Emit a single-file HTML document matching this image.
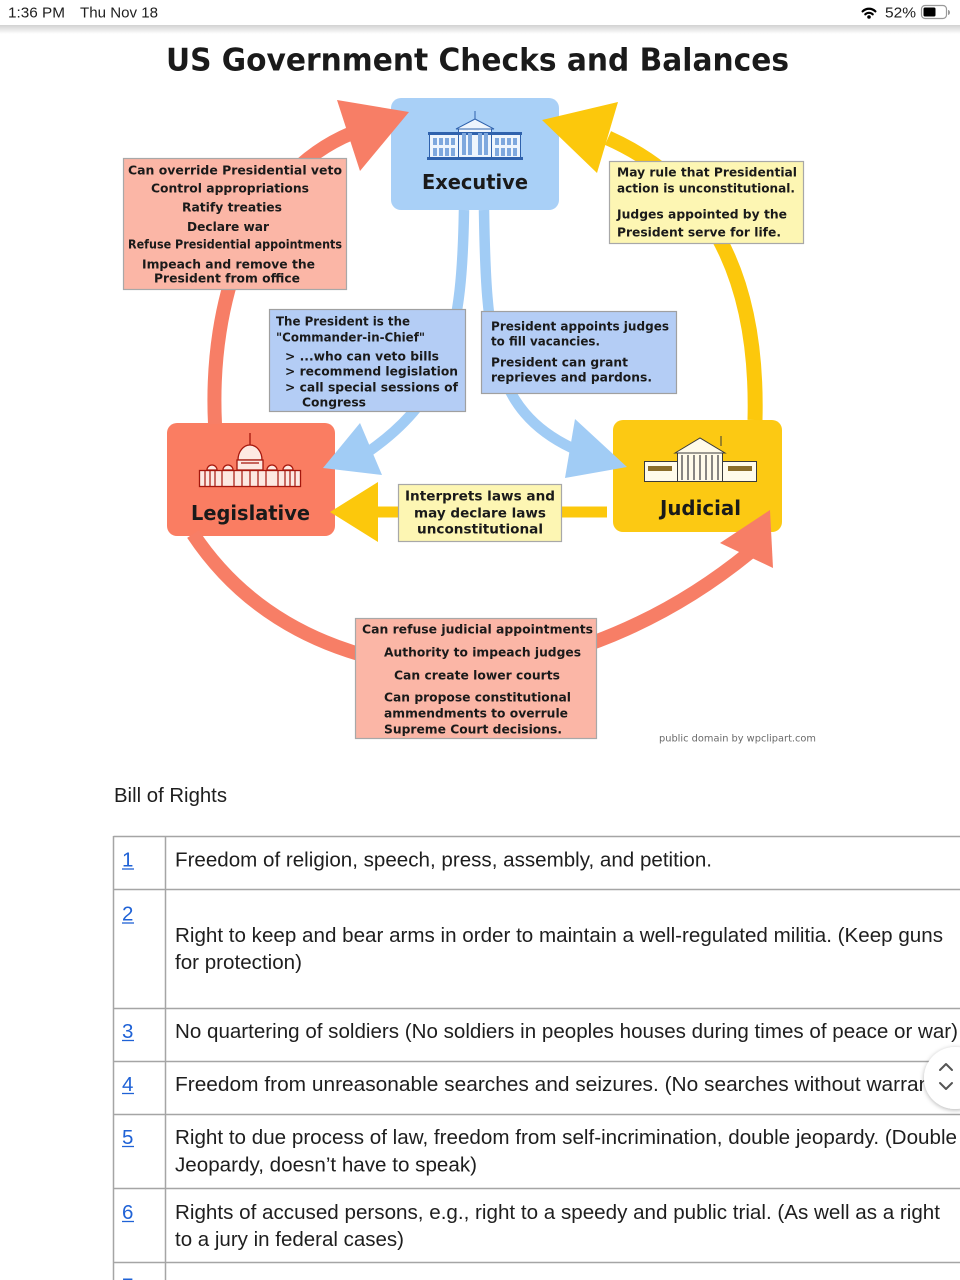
<!DOCTYPE html>
<html>
<head>
<meta charset="utf-8">
<style>
html,body{margin:0;padding:0;background:#fff;width:960px;height:1280px;overflow:hidden;}
svg{position:absolute;left:0;top:0;display:block;}
.d{font-family:"DejaVu Sans","Liberation Sans",sans-serif;font-weight:bold;fill:#1a1a1a;}
.t{font-family:"Liberation Sans",Arial,sans-serif;fill:#1e1e1e;}
.n{font-family:"Liberation Sans",Arial,sans-serif;fill:#1f62d6;}
</style>
</head>
<body>
<svg width="960" height="1280" viewBox="0 0 960 1280" xmlns="http://www.w3.org/2000/svg">
<defs>
  <linearGradient id="sh" x1="0" y1="0" x2="0" y2="1">
    <stop offset="0" stop-color="#000" stop-opacity="0.18"/>
    <stop offset="1" stop-color="#000" stop-opacity="0"/>
  </linearGradient>
  <filter id="ds" x="-50%" y="-50%" width="200%" height="200%">
    <feDropShadow dx="0" dy="1" stdDeviation="2.5" flood-color="#000" flood-opacity="0.3"/>
  </filter>
</defs>

<!-- status bar -->
<rect x="0" y="0" width="960" height="25" fill="#fff"/>
<rect x="0" y="25" width="960" height="9" fill="url(#sh)"/>
<text class="t" x="8" y="17.5" font-size="15" textLength="57" lengthAdjust="spacingAndGlyphs" fill="#000">1:36 PM</text>
<text class="t" x="80" y="17.5" font-size="15" textLength="78" lengthAdjust="spacingAndGlyphs" fill="#000">Thu Nov 18</text>
<g fill="none" stroke="#000" stroke-width="2.2" stroke-linecap="round">
  <path d="M862.6,11.4 A9,9 0 0 1 875.4,11.4"/>
  <path d="M865.3,14.3 A5.3,5.3 0 0 1 872.7,14.3"/>
</g>
<circle cx="869" cy="17" r="1.8" fill="#000"/>
<text class="t" x="885" y="17.5" font-size="15" textLength="31" lengthAdjust="spacingAndGlyphs" fill="#000">52%</text>
<rect x="921.5" y="5.5" width="25" height="13" rx="3.5" fill="none" stroke="#999" stroke-width="1.2"/>
<rect x="923.5" y="7.5" width="12" height="9" rx="1.5" fill="#000"/>
<path d="M948,10 a2,2.5 0 0 1 0,5 z" fill="#999"/>

<!-- title -->
<text class="d" x="166" y="70.5" font-size="31" textLength="623" lengthAdjust="spacingAndGlyphs" fill="#111">US Government Checks and Balances</text>

<!-- branch boxes -->
<rect x="391" y="98" width="168" height="112" rx="10" fill="#a9d0f7"/>
<rect x="167" y="423" width="168" height="113" rx="10" fill="#fa7d62"/>
<rect x="613" y="420" width="169" height="112" rx="10" fill="#fcc913"/>

<!-- White House icon -->
<g stroke="#2f62ad" stroke-width="1" fill="#eef5fd">
  <rect x="429.5" y="134.5" width="91" height="23"/>
  <rect x="458.5" y="128.5" width="33" height="29"/>
  <polygon points="456,129 475,119 494,129"/>
  <line x1="475" y1="111" x2="475" y2="119"/>
</g>
<rect x="428" y="132" width="94" height="3" fill="#2f62ad"/>
<rect x="427" y="157" width="96" height="3" fill="#2f62ad"/>
<g fill="#7ea8de">
  <rect x="433" y="138" width="4" height="7"/><rect x="439" y="138" width="4" height="7"/><rect x="445" y="138" width="4" height="7"/><rect x="451" y="138" width="4" height="7"/>
  <rect x="433" y="148" width="4" height="8"/><rect x="439" y="148" width="4" height="8"/><rect x="445" y="148" width="4" height="8"/><rect x="451" y="148" width="4" height="8"/>
  <rect x="495" y="138" width="4" height="7"/><rect x="501" y="138" width="4" height="7"/><rect x="507" y="138" width="4" height="7"/><rect x="513" y="138" width="4" height="7"/>
  <rect x="495" y="148" width="4" height="8"/><rect x="501" y="148" width="4" height="8"/><rect x="507" y="148" width="4" height="8"/><rect x="513" y="148" width="4" height="8"/>
  <rect x="462" y="133" width="4" height="22"/><rect x="468" y="133" width="4" height="22"/><rect x="478" y="133" width="4" height="22"/><rect x="484" y="133" width="4" height="22"/>
</g>

<!-- Capitol icon -->
<g stroke="#a5170d" stroke-width="1.3" fill="#fde9e2">
  <line x1="250" y1="433" x2="250" y2="446"/>
  <path d="M238,460 A12,15 0 0 1 262,460 Z"/>
  <rect x="237" y="460" width="26" height="10"/>
  <rect x="199.5" y="470.5" width="101" height="16"/>
  <path d="M207,470 a5,5 0 0 1 10,0 Z"/>
  <path d="M223,470 a5,5 0 0 1 10,0 Z"/>
  <path d="M267,470 a5,5 0 0 1 10,0 Z"/>
  <path d="M283,470 a5,5 0 0 1 10,0 Z"/>
</g>
<g stroke="#a5170d" stroke-width="1.2">
  <line x1="205" y1="471" x2="205" y2="486"/><line x1="210" y1="471" x2="210" y2="486"/><line x1="215" y1="471" x2="215" y2="486"/>
  <line x1="222" y1="471" x2="222" y2="486"/><line x1="234" y1="471" x2="234" y2="486"/>
  <line x1="242" y1="471" x2="242" y2="486"/><line x1="250" y1="471" x2="250" y2="486"/><line x1="258" y1="471" x2="258" y2="486"/>
  <line x1="266" y1="471" x2="266" y2="486"/><line x1="278" y1="471" x2="278" y2="486"/>
  <line x1="285" y1="471" x2="285" y2="486"/><line x1="290" y1="471" x2="290" y2="486"/><line x1="295" y1="471" x2="295" y2="486"/>
  <line x1="241" y1="463" x2="259" y2="463"/>
</g>

<!-- Court icon -->
<g stroke="#3a3a3a" stroke-width="1" fill="#fffbea">
  <rect x="644.5" y="461.5" width="112" height="20"/>
  <rect x="677.5" y="452.5" width="45" height="29"/>
  <polygon points="675,453 700,438 725,453"/>
  <line x1="721" y1="436" x2="721" y2="446"/>
</g>
<g fill="#8a6d2a">
  <rect x="648" y="466" width="24" height="5"/>
  <rect x="728" y="466" width="24" height="5"/>
</g>
<g stroke="#555" stroke-width="1.4">
  <line x1="682" y1="455" x2="682" y2="480"/><line x1="688" y1="455" x2="688" y2="480"/><line x1="694" y1="455" x2="694" y2="480"/>
  <line x1="700" y1="455" x2="700" y2="480"/><line x1="706" y1="455" x2="706" y2="480"/><line x1="712" y1="455" x2="712" y2="480"/><line x1="718" y1="455" x2="718" y2="480"/>
</g>

<text class="d" x="422" y="189" font-size="20" textLength="106" lengthAdjust="spacingAndGlyphs">Executive</text>
<text class="d" x="191" y="520" font-size="20" textLength="119" lengthAdjust="spacingAndGlyphs">Legislative</text>
<text class="d" x="660" y="515" font-size="20" textLength="81" lengthAdjust="spacingAndGlyphs">Judicial</text>

<!-- arrows -->
<g fill="none" stroke-linecap="butt">
  <path d="M215,424 C209,300 250,175 352,133" stroke="#f77e66" stroke-width="14"/>
  <path d="M755,420 C758,300 725,190 608,138" stroke="#fcc80c" stroke-width="15"/>
  <path d="M464,210 C462,330 450,395 368,452" stroke="#a1ccf5" stroke-width="10.5"/>
  <path d="M484,210 C486,340 492,410 572,448" stroke="#a1ccf5" stroke-width="10.5"/>
  <path d="M607,512 L374,512" stroke="#fcc80c" stroke-width="11"/>
  <path d="M193,534 Q280,665 476,672 Q630,650 749,553" stroke="#f77e66" stroke-width="14"/>
</g>
<polygon points="337,100 409,112 360,171" fill="#f77e66"/>
<polygon points="618,102 542,120 597,173" fill="#fcc80c"/>
<polygon points="360,423 323,468 382,475" fill="#a1ccf5"/>
<polygon points="575,419 627,467 565,478" fill="#a1ccf5"/>
<polygon points="378,482 330,512 378,542" fill="#fcc80c"/>
<polygon points="720,543 770,510 773,568" fill="#f77e66"/>

<!-- text boxes -->
<rect x="123.5" y="158.5" width="223" height="131" fill="#fbb6a6" stroke="#a8a8a8" stroke-width="1.2"/>
<rect x="269.5" y="309.5" width="196" height="102" fill="#b4cdf5" stroke="#a0a0a0" stroke-width="1.2"/>
<rect x="481.5" y="311.5" width="195" height="82" fill="#b4cdf5" stroke="#a0a0a0" stroke-width="1.2"/>
<rect x="609.5" y="161.5" width="194" height="82" fill="#fdf6b3" stroke="#a8a8a8" stroke-width="1.2"/>
<rect x="398.5" y="484.5" width="163" height="57" fill="#fdf6b3" stroke="#a8a8a8" stroke-width="1.2"/>
<rect x="355.5" y="618.5" width="241" height="120" fill="#fbb6a6" stroke="#a8a8a8" stroke-width="1.2"/>

<g class="d" font-size="12.5">
  <text x="128" y="174.5" textLength="214" lengthAdjust="spacingAndGlyphs">Can override Presidential veto</text>
  <text x="151" y="192.5" textLength="158" lengthAdjust="spacingAndGlyphs">Control appropriations</text>
  <text x="182" y="211.5" textLength="100" lengthAdjust="spacingAndGlyphs">Ratify treaties</text>
  <text x="187" y="231" textLength="82" lengthAdjust="spacingAndGlyphs">Declare war</text>
  <text x="128" y="248.5" textLength="214" lengthAdjust="spacingAndGlyphs">Refuse Presidential appointments</text>
  <text x="142" y="268.5" textLength="173" lengthAdjust="spacingAndGlyphs">Impeach and remove the</text>
  <text x="154" y="282.5" textLength="146" lengthAdjust="spacingAndGlyphs">President from office</text>
</g>
<g class="d" font-size="12.5">
  <text x="276" y="325.5" textLength="134" lengthAdjust="spacingAndGlyphs">The President is the</text>
  <text x="276" y="341.5" textLength="149" lengthAdjust="spacingAndGlyphs">"Commander-in-Chief"</text>
  <text x="285" y="360.5" textLength="154" lengthAdjust="spacingAndGlyphs">&gt; ...who can veto bills</text>
  <text x="285" y="375.5" textLength="173" lengthAdjust="spacingAndGlyphs">&gt; recommend legislation</text>
  <text x="285" y="391.5" textLength="173" lengthAdjust="spacingAndGlyphs">&gt; call special sessions of</text>
  <text x="302" y="406.5" textLength="64" lengthAdjust="spacingAndGlyphs">Congress</text>
</g>
<g class="d" font-size="12.5">
  <text x="491" y="330.5" textLength="178" lengthAdjust="spacingAndGlyphs">President appoints judges</text>
  <text x="491" y="345.5" textLength="109" lengthAdjust="spacingAndGlyphs">to fill vacancies.</text>
  <text x="491" y="366.5" textLength="137" lengthAdjust="spacingAndGlyphs">President can grant</text>
  <text x="491" y="381.5" textLength="161" lengthAdjust="spacingAndGlyphs">reprieves and pardons.</text>
</g>
<g class="d" font-size="12.5">
  <text x="617" y="176.5" textLength="180" lengthAdjust="spacingAndGlyphs">May rule that Presidential</text>
  <text x="617" y="192.5" textLength="178" lengthAdjust="spacingAndGlyphs">action is unconstitutional.</text>
  <text x="617" y="218.5" textLength="170" lengthAdjust="spacingAndGlyphs">Judges appointed by the</text>
  <text x="617" y="236.5" textLength="164" lengthAdjust="spacingAndGlyphs">President serve for life.</text>
</g>
<g class="d" font-size="13.5">
  <text x="405" y="500.5" textLength="150" lengthAdjust="spacingAndGlyphs">Interprets laws and</text>
  <text x="414" y="517.5" textLength="132" lengthAdjust="spacingAndGlyphs">may declare laws</text>
  <text x="417" y="533.5" textLength="126" lengthAdjust="spacingAndGlyphs">unconstitutional</text>
</g>
<g class="d" font-size="12.5">
  <text x="362" y="633.5" textLength="231" lengthAdjust="spacingAndGlyphs">Can refuse judicial appointments</text>
  <text x="384" y="656.5" textLength="197" lengthAdjust="spacingAndGlyphs">Authority to impeach judges</text>
  <text x="394" y="679.5" textLength="166" lengthAdjust="spacingAndGlyphs">Can create lower courts</text>
  <text x="384" y="701.5" textLength="187" lengthAdjust="spacingAndGlyphs">Can propose constitutional</text>
  <text x="384" y="717.5" textLength="184" lengthAdjust="spacingAndGlyphs">ammendments to overrule</text>
  <text x="384" y="733.5" textLength="178" lengthAdjust="spacingAndGlyphs">Supreme Court decisions.</text>
</g>
<text x="659" y="741.5" font-family="'DejaVu Sans Condensed','DejaVu Sans',sans-serif" font-size="10" fill="#6a6a6a" textLength="157" lengthAdjust="spacingAndGlyphs">public domain by wpclipart.com</text>

<text class="t" x="114" y="802" font-size="20.5" textLength="113" lengthAdjust="spacingAndGlyphs">Bill of Rights</text>

<g stroke="#a5a5a5" stroke-width="1.5">
  <line x1="113.5" y1="836.5" x2="960" y2="836.5"/>
  <line x1="113.5" y1="889.5" x2="960" y2="889.5"/>
  <line x1="113.5" y1="1008.5" x2="960" y2="1008.5"/>
  <line x1="113.5" y1="1061.5" x2="960" y2="1061.5"/>
  <line x1="113.5" y1="1114.5" x2="960" y2="1114.5"/>
  <line x1="113.5" y1="1188.5" x2="960" y2="1188.5"/>
  <line x1="113.5" y1="1262.5" x2="960" y2="1262.5"/>
  <line x1="113.5" y1="836" x2="113.5" y2="1280"/>
  <line x1="165.5" y1="836" x2="165.5" y2="1280"/>
</g>

<g class="n" font-size="20.5">
  <text x="122" y="866.5">1</text>
  <text x="122" y="920.5">2</text>
  <text x="122" y="1038">3</text>
  <text x="122" y="1091">4</text>
  <text x="122" y="1144">5</text>
  <text x="122" y="1219">6</text>
  <text x="122" y="1292.5">7</text>
</g>
<g stroke="#1f62d6" stroke-width="1.3">
  <line x1="122" y1="869" x2="134" y2="869"/>
  <line x1="122" y1="923" x2="134" y2="923"/>
  <line x1="122" y1="1040.5" x2="134" y2="1040.5"/>
  <line x1="122" y1="1093.5" x2="134" y2="1093.5"/>
  <line x1="122" y1="1146.5" x2="134" y2="1146.5"/>
  <line x1="122" y1="1221.5" x2="134" y2="1221.5"/>
</g>

<g class="t" font-size="20.5">
  <text x="175" y="866.5" textLength="537" lengthAdjust="spacingAndGlyphs">Freedom of religion, speech, press, assembly, and petition.</text>
  <text x="175" y="942" textLength="768" lengthAdjust="spacingAndGlyphs">Right to keep and bear arms in order to maintain a well-regulated militia. (Keep guns</text>
  <text x="175" y="969" textLength="127" lengthAdjust="spacingAndGlyphs">for protection)</text>
  <text x="175" y="1038" textLength="783" lengthAdjust="spacingAndGlyphs">No quartering of soldiers (No soldiers in peoples houses during times of peace or war)</text>
  <text x="175" y="1091" textLength="768" lengthAdjust="spacingAndGlyphs">Freedom from unreasonable searches and seizures. (No searches without warrant)</text>
  <text x="175" y="1144" textLength="782" lengthAdjust="spacingAndGlyphs">Right to due process of law, freedom from self-incrimination, double jeopardy. (Double</text>
  <text x="175" y="1171.5" textLength="302" lengthAdjust="spacingAndGlyphs">Jeopardy, doesn’t have to speak)</text>
  <text x="175" y="1219" textLength="765" lengthAdjust="spacingAndGlyphs">Rights of accused persons, e.g., right to a speedy and public trial. (As well as a right</text>
  <text x="175" y="1246" textLength="229" lengthAdjust="spacingAndGlyphs">to a jury in federal cases)</text>
</g>

<circle cx="955" cy="1078" r="31" fill="#fff" filter="url(#ds)"/>
<g fill="none" stroke="#555" stroke-width="2" stroke-linecap="round" stroke-linejoin="round">
  <path d="M940,1070 L946,1064 L952,1070"/>
  <path d="M940,1083 L946,1089 L952,1083"/>
</g>
</svg>
</body>
</html>
